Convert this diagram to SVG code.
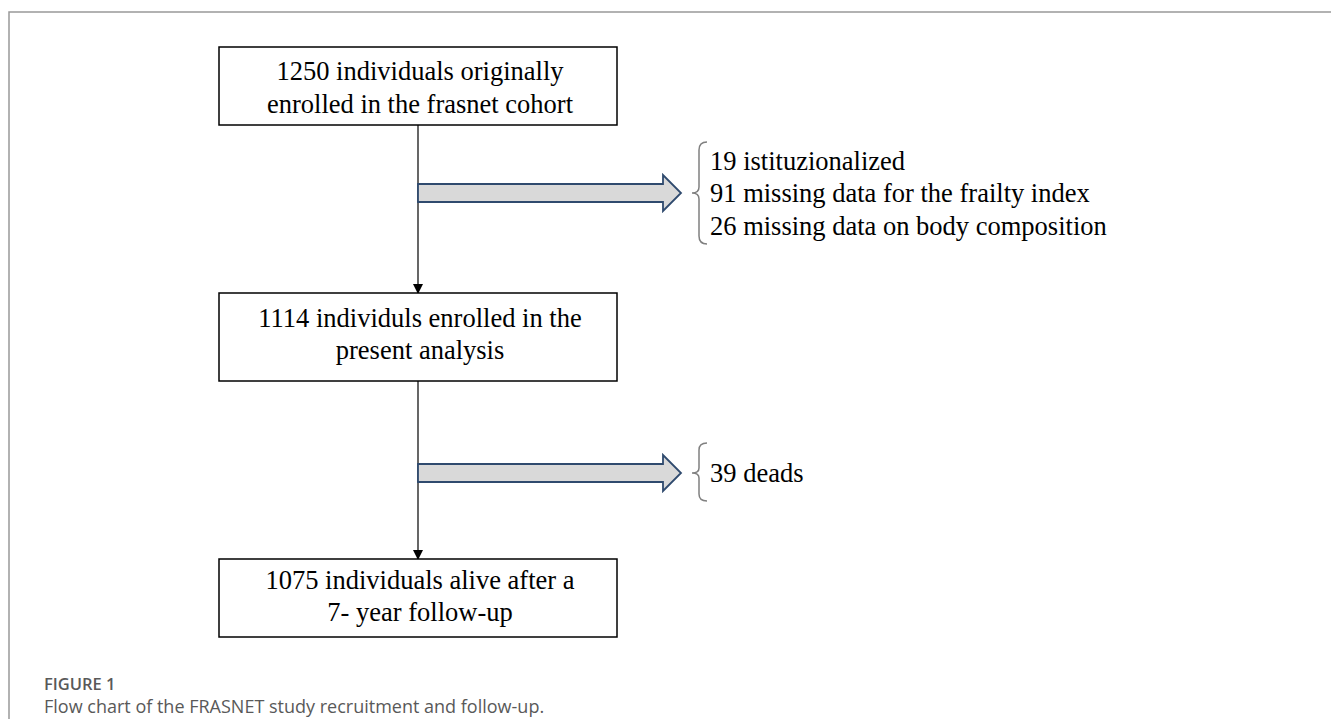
<svg xmlns="http://www.w3.org/2000/svg" width="1331" height="719" viewBox="0 0 1331 719">
<style>
.box{fill:#fff;stroke:#000;stroke-width:1.5}
.t{font-family:"Liberation Serif","Times New Roman",serif;font-size:26.5px;fill:#000}
.c{text-anchor:middle}
.ln{stroke:#000;stroke-width:1.2;fill:none}
.arr{fill:#d9d9d9;stroke:#2f4a6e;stroke-width:1.8}
.br{fill:none;stroke:#808080;stroke-width:1.5}
.cap{font-family:"Open Sans","Liberation Sans",sans-serif;fill:#595959}
</style>
<defs>
<marker id="ah" markerWidth="10" markerHeight="10" refX="9" refY="5" orient="auto" markerUnits="userSpaceOnUse">
<path d="M0,0 L10,5 L0,10 z" fill="#000"/>
</marker>
</defs>
<g id="frame">
<path d="M9,719 V12 H1331" fill="none" stroke="#999" stroke-width="1.5"/>
</g>
<g id="connectors">
<line class="ln" x1="418" y1="125" x2="418" y2="293" marker-end="url(#ah)"/>
<line class="ln" x1="418" y1="381" x2="418" y2="559" marker-end="url(#ah)"/>
<path class="arr" d="M418,184 H663 V175 L681,193 L663,211 V202 H418 Z"/>
<path class="arr" d="M418,464 H663 V455 L681,473 L663,491 V482 H418 Z"/>
<path class="br" d="M707,142 Q699,142 699,150 V187 Q699,193 692,193 Q699,193 699,199 V236 Q699,244 707,244"/>
<path class="br" d="M707,443 Q699,443 699,450 V468 Q699,473 692,473 Q699,473 699,478 V494 Q699,501 707,501"/>
</g>
<g id="n1">
<rect class="box" x="219" y="47" width="398" height="78"/>
<text class="t c" x="420" y="80">1250 individuals originally</text>
<text class="t c" x="420" y="113">enrolled in the frasnet cohort</text>
</g>
<g id="n2">
<rect class="box" x="219" y="293" width="398" height="88"/>
<text class="t c" x="420" y="327">1114 individuls enrolled in the</text>
<text class="t c" x="420" y="359">present analysis</text>
</g>
<g id="n3">
<rect class="box" x="219" y="559" width="398" height="78"/>
<text class="t c" x="420" y="589">1075 individuals alive after a</text>
<text class="t c" x="420" y="621">7- year follow-up</text>
</g>
<g id="excl1">
<text class="t" x="710" y="170">19 istituzionalized</text>
<text class="t" x="710" y="202">91 missing data for the frailty index</text>
<text class="t" x="710" y="235">26 missing data on body composition</text>
</g>
<g id="excl2">
<text class="t" x="710" y="482">39 deads</text>
</g>
<g id="caption">
<text class="cap" x="44" y="690" font-size="16.5" font-weight="600">FIGURE 1</text>
<text class="cap" x="44" y="713" font-size="18">Flow chart of the FRASNET study recruitment and follow-up.</text>
</g>
</svg>
